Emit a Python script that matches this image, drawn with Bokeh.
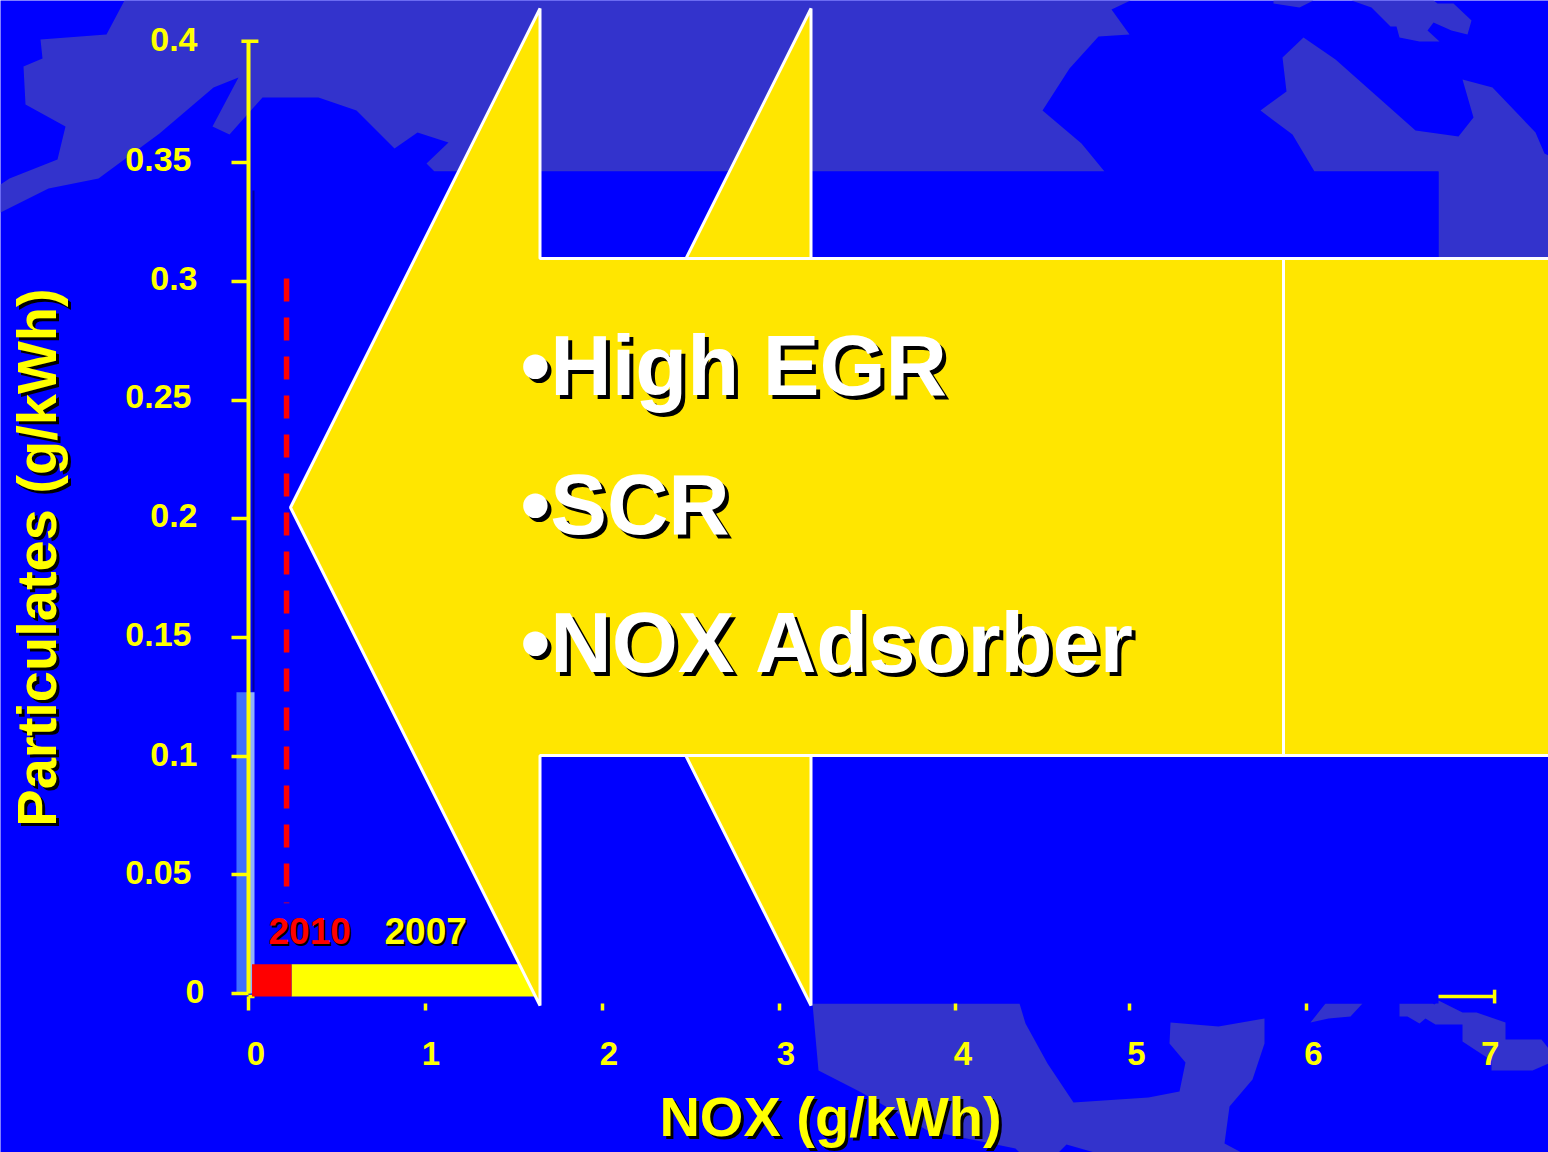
from bokeh.core.properties import value
from bokeh.embed import file_html
from bokeh.models import FixedTicker, Range1d
from bokeh.plotting import figure
from bokeh.resources import INLINE

# Emission standards, NOX in g/kWh and particulates in g/kWh
STD_2010_NOX = [0.02, 0.243]
STD_2007_NOX = [0.243, 1.62]
STD_BAR_PM = [-0.00126, 0.0123]
OLD_PM_BAND_NOX = [-0.068, 0.034]
OLD_PM_BAND_PM = [0.0, 0.127]
LIMIT_2010_NOX = [0.215, 0.215]
LIMIT_2010_PM = [0.3013, 0.038]

NOX_TICKS = [0, 1, 2, 3, 3.994, 4.98, 5.977]
NOX_AXIS_END = 7.04
NOX_TICK_LABELS = ["0", "1", "2", "3", "4", "5", "6", "7"]
NOX_LABEL_X = [0.042, 1.031, 2.037, 3.037, 4.037, 5.017, 6.017, 7.015]
PM_TICKS = [0, 0.05, 0.1, 0.15, 0.2, 0.25, 0.3, 0.35]
PM_AXIS_END = 0.4013
PM_TICK_LABELS = ["0", "0.05", "0.1", "0.15", "0.2", "0.25", "0.3", "0.35", "0.4"]
PM_LABEL_BASELINES = [1003, 884, 766, 646, 527, 408, 290, 171, 51]
PM_LABEL_RIGHT = [204, 191, 197, 191, 197, 191, 197, 191, 197]

TECHNOLOGIES = ["•High EGR", "•SCR", "•NOX Adsorber"]
TECH_BASELINES = [365, 504, 642]

# Backdrop map, in sheet pixels
LAND = [
    ([124, 106, 40, 42, 23, 25, 65, 57, 9, 0, 0, 48, 98, 159, 213, 238, 212, 229, 262, 318, 356, 394, 417, 448,
      426, 434, 1104, 1081, 1042, 1069, 1098, 1129, 1111, 1130],
     [0, 34, 39, 58, 66, 104, 126, 159, 178, 184, 212, 188, 178, 133, 87, 77, 126, 134, 97, 97, 110, 148, 132, 142,
      163, 171, 171, 143, 110, 68, 36, 34, 9, 0]),
    ([1303, 1282, 1286, 1260, 1292, 1314, 1438, 1438, 1548, 1548, 1544, 1535, 1492, 1462, 1473, 1458, 1415, 1335],
     [37, 57, 91, 110, 134, 171, 171, 258, 258, 155, 153, 132, 87, 79, 117, 136, 130, 59]),
    ([1273, 1299, 1313, 1273], [3, 7, 0, 0]),
    ([1351, 1371, 1390, 1396, 1399, 1419, 1439, 1427, 1433, 1451, 1467, 1471, 1453, 1437, 1433],
     [0, 7, 26, 26, 37, 41, 41, 30, 22, 30, 34, 20, 3, 3, 0]),
    ([812, 1019, 1025, 1047, 1073, 1148, 1179, 1185, 1169, 1170, 1218, 1264, 1264, 1252, 1229, 1224, 1241, 1094,
      1066, 1058, 1019, 1015, 927, 861, 818],
     [1003, 1003, 1023, 1063, 1102, 1097, 1091, 1062, 1043, 1022, 1026, 1018, 1043, 1079, 1106, 1143, 1152, 1152,
      1144, 1152, 1152, 1148, 1130, 1092, 1070]),
    ([1325, 1362, 1350, 1328, 1310], [1003, 1003, 1016, 1018, 1022]),
    ([1399, 1399, 1407, 1419, 1425, 1435, 1462, 1462, 1491, 1491, 1532, 1548, 1548, 1541, 1505, 1505, 1476, 1462,
      1438, 1434, 1432],
     [1003, 1016, 1016, 1023, 1018, 1024, 1024, 1041, 1060, 1070, 1070, 1063, 1048, 1039, 1039, 1022, 1012, 1012,
      1000, 1004, 1003]),
]
SEA_PANEL_X = [254, 1438]
SEA_PANEL_Y = [171, 1003]

# Arrow shapes, front to back, in sheet pixels
ARROW_FRONT_X = [290, 539.5, 539.5, 1283, 1283, 539.5, 539.5]
ARROW_FRONT_Y = [507, 8, 258, 258, 755, 755, 1005]
ARROW_MIDDLE_X = [561, 810.5, 810.5, 1283, 1283, 810.5, 810.5]
ARROW_MIDDLE_Y = [507, 8, 258, 258, 755, 755, 1005]
ARROW_TAIL_X = [1283, 1560, 1560, 1283]
ARROW_TAIL_Y = [258, 258, 755, 755]

BLUE = "#0000ff"
LAND_BLUE = "#3333cc"
YELLOW = "#ffff00"
ARROW_YELLOW = "#ffe600"
RED = "#ff0000"
FONT = value("Liberation Sans")

PX_PER_NOX = 177.0
PX_PER_PM = 2373.0
ORIGIN_X = 248.0
ORIGIN_Y = 993.0

p = figure(
    width=1548,
    height=1152,
    output_backend="svg",
    toolbar_location=None,
    min_border=0,
    outline_line_color=None,
    background_fill_color=BLUE,
    border_fill_color=BLUE,
    x_range=Range1d(-ORIGIN_X / PX_PER_NOX, (1548 - ORIGIN_X) / PX_PER_NOX),
    y_range=Range1d((ORIGIN_Y - 1152) / PX_PER_PM, ORIGIN_Y / PX_PER_PM),
)
p.extra_x_ranges = {"sheet": Range1d(0, 1548)}
p.extra_y_ranges = {"sheet": Range1d(1152, 0)}
p.grid.visible = False
SHEET = dict(x_range_name="sheet", y_range_name="sheet")

# Axes live inside the frame; the x axis sits below the glyph level so the sea panel hides its line
xa = p.xaxis[0]
xa.fixed_location = -0.00147
xa.level = "underlay"
xa.ticker = FixedTicker(ticks=NOX_TICKS)
xa.bounds = (0, NOX_AXIS_END)
xa.axis_line_color = YELLOW
xa.axis_line_width = 3.5
xa.major_tick_line_color = YELLOW
xa.major_tick_line_width = 3.5
xa.major_tick_in = 0
xa.major_tick_out = 14
xa.minor_tick_line_color = None
xa.major_label_text_font_size = "0px"
xa.major_label_text_color = None

ya = p.yaxis[0]
ya.fixed_location = 0
ya.ticker = FixedTicker(ticks=PM_TICKS)
ya.bounds = (0, PM_AXIS_END)
ya.axis_line_color = YELLOW
ya.axis_line_width = 4
ya.major_tick_line_color = YELLOW
ya.major_tick_line_width = 3.5
ya.major_tick_in = 0
ya.major_tick_out = 17
ya.minor_tick_line_color = None
ya.major_label_text_font_size = "0px"
ya.major_label_text_color = None

# Map backdrop
for land_x, land_y in LAND:
    p.patch(land_x, land_y, fill_color=LAND_BLUE, line_color=None, level="image", **SHEET)
p.quad(left=[SEA_PANEL_X[0]], right=[SEA_PANEL_X[1]], top=[SEA_PANEL_Y[0]], bottom=[SEA_PANEL_Y[1]],
       fill_color=BLUE, line_color=None, **SHEET)

# End caps on both axes
p.segment([NOX_AXIS_END], [-0.0013 + 0.0029], [NOX_AXIS_END], [-0.0013 - 0.0029], line_color=YELLOW, line_width=3.5)
p.segment([-0.04], [PM_AXIS_END], [0.056], [PM_AXIS_END], line_color=YELLOW, line_width=3.5)

# Earlier particulate band either side of the y axis, plus the thin rule beside the axis
p.quad(left=[OLD_PM_BAND_NOX[0]], right=[0.0], bottom=[OLD_PM_BAND_PM[0]], top=[OLD_PM_BAND_PM[1]],
       fill_color="#3f6fff", line_color=None)
p.quad(left=[0.0], right=[OLD_PM_BAND_NOX[1]], bottom=[OLD_PM_BAND_PM[0]], top=[OLD_PM_BAND_PM[1]],
       fill_color="#8fb0ff", line_color=None)
p.segment([253], [190], [253], [691], line_color="#00009c", line_width=2, **SHEET)

# 2010 limit and the standards bar
p.line(LIMIT_2010_NOX, LIMIT_2010_PM, line_color=RED, line_width=5.5, line_dash="23 16")
p.quad(left=[STD_2007_NOX[0]], right=[STD_2007_NOX[1]], bottom=[STD_BAR_PM[0]], top=[STD_BAR_PM[1]],
       fill_color=YELLOW, line_color=None)
p.quad(left=[STD_2010_NOX[0]], right=[STD_2010_NOX[1]], bottom=[STD_BAR_PM[0]], top=[STD_BAR_PM[1]],
       fill_color=RED, line_color=None)

# Arrow, back to front
p.patch(ARROW_MIDDLE_X, ARROW_MIDDLE_Y, fill_color=ARROW_YELLOW, line_color="white", line_width=3, **SHEET)
p.patch(ARROW_TAIL_X, ARROW_TAIL_Y, fill_color=ARROW_YELLOW, line_color="white", line_width=3, **SHEET)
p.patch(ARROW_FRONT_X, ARROW_FRONT_Y, fill_color=ARROW_YELLOW, line_color="white", line_width=3, **SHEET)


def shadowed(x, y, text, size, color, shadow=3, angle=0.0, align="left"):
    """Bold label with a black drop shadow, in sheet pixels."""
    common = dict(text_font=FONT, text_font_style="bold", text_font_size=f"{size}px", angle=angle,
                  text_align=align, text_baseline="alphabetic", **SHEET)
    p.text([x], [y], text=[text], x_offset=shadow, y_offset=shadow, text_color="black", **common)
    p.text([x], [y], text=[text], text_color=color, **common)


for label, baseline in zip(TECHNOLOGIES, TECH_BASELINES):
    shadowed(520, baseline, label, 85, "white", shadow=4)

shadowed(268, 930, "2010", 37, RED, shadow=2)
shadowed(384, 930, "2007", 37, YELLOW, shadow=2)
shadowed(830, 1116, "NOX (g/kWh)", 56, YELLOW, shadow=3, align="center")
shadowed(36, 557, "Particulates (g/kWh)", 56, YELLOW, shadow=3, angle=1.5708, align="center")

# Tick labels set slightly off their ticks
p.text(PM_LABEL_RIGHT, [y - 12 for y in PM_LABEL_BASELINES], text=PM_TICK_LABELS,
       text_font=FONT, text_font_style="bold", text_font_size="34px", text_color=YELLOW, text_align="right",
       text_baseline="alphabetic", **SHEET)
p.text(NOX_LABEL_X, [-0.0254] * len(NOX_LABEL_X), text=NOX_TICK_LABELS, text_font=FONT, text_font_style="bold",
       text_font_size="33px", text_color=YELLOW, text_align="center", text_baseline="alphabetic")

open("out.html", "w").write(file_html(p, INLINE))
